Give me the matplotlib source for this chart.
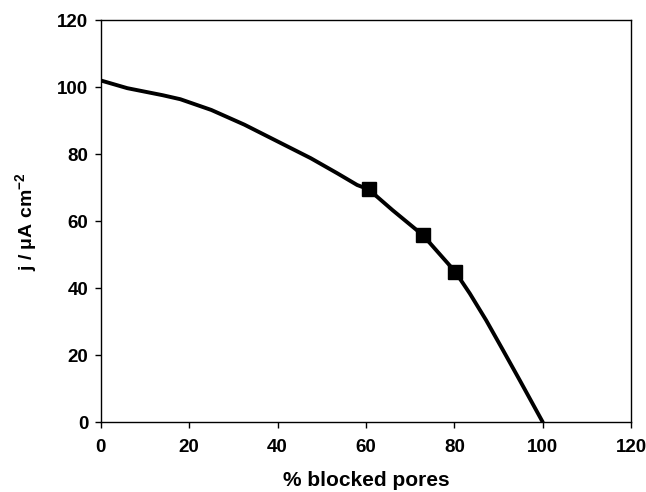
import matplotlib
matplotlib.use('Agg')
from matplotlib import pyplot as plt

# fitted curve
curve_x = [0, 6, 14, 18, 25, 32.5, 40, 47.5, 53.5, 58, 60.6, 66, 72.9, 80.2, 83.5, 87.2, 91, 94.8, 100]
curve_y = [102, 99.7, 97.6, 96.4, 93.2, 88.8, 83.8, 78.8, 74.3, 70.8, 69.5, 63.3, 55.8, 44.9, 38.4, 30.4, 21.5, 12.5, 0]

# measured points
pts_x = [60.6, 72.9, 80.1]
pts_y = [69.6, 55.8, 44.8]

xticks = [0, 20, 40, 60, 80, 100, 120]
yticks = [0, 20, 40, 60, 80, 100, 120]

plt.rcParams['font.family'] = ['Liberation Sans', 'DejaVu Sans']
plt.rcParams['font.weight'] = 'bold'
plt.rcParams['mathtext.fontset'] = 'custom'
plt.rcParams['mathtext.rm'] = 'Liberation Sans:bold'
plt.rcParams['mathtext.bf'] = 'Liberation Sans:bold'
plt.rcParams['mathtext.default'] = 'bf'

fig = plt.figure(figsize=(6.46, 4.92), dpi=100)
ax = fig.add_axes([0.156, 0.142, 0.821, 0.817])

ax.plot(curve_x, curve_y, color='black', lw=2.8, solid_capstyle='round', solid_joinstyle='round')
ax.plot(pts_x, pts_y, 's', color='black', markersize=10.5)

ax.set_xlim(0, 120)
ax.set_ylim(0, 120)
ax.set_xticks(xticks)
ax.set_yticks(yticks)
ax.tick_params(direction='out', length=4, width=1, labelsize=13.5)
ax.tick_params(axis='x', pad=8)
ax.tick_params(axis='y', pad=5)
for lab in ax.get_xticklabels() + ax.get_yticklabels():
    lab.set_fontweight('bold')
for s in ax.spines.values():
    s.set_linewidth(1)

ax.set_xlabel('% blocked pores', fontsize=15, fontweight='bold', labelpad=11)
ax.set_ylabel('j / μA cm$^{-2}$', fontsize=14, fontweight='bold', labelpad=13)

fig.savefig('out.png', dpi=100)
